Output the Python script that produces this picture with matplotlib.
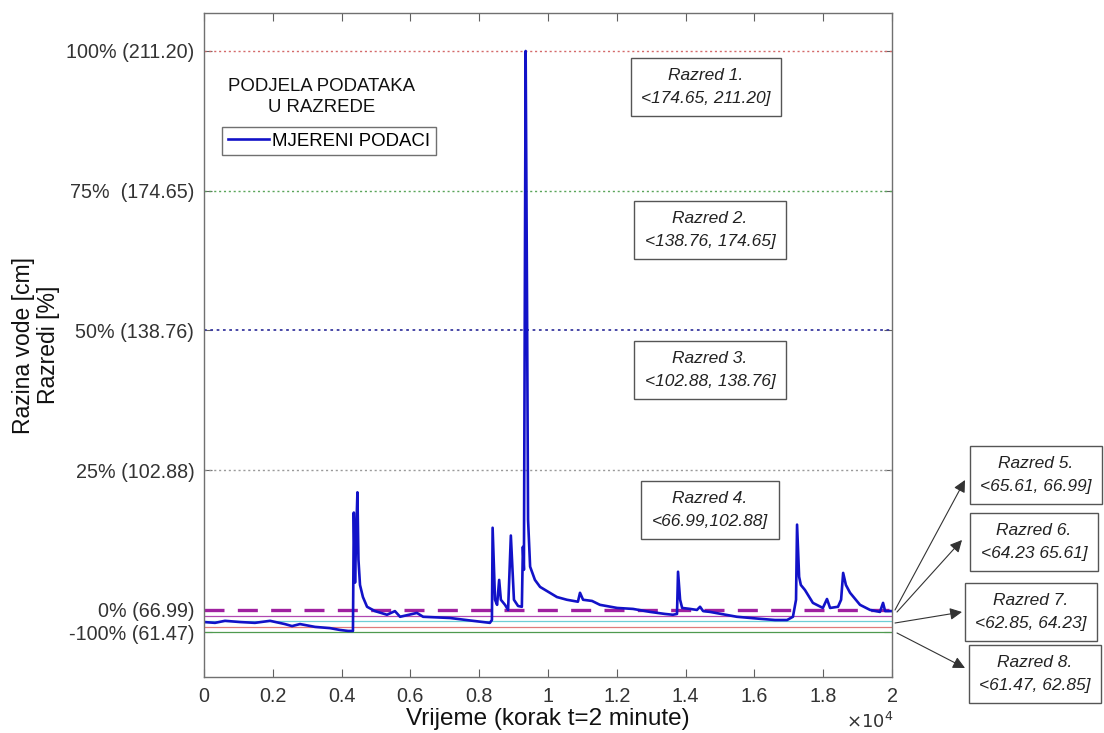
import numpy as np
import matplotlib
matplotlib.use("Agg")
import matplotlib.pyplot as plt

plt.rcParams['font.family'] = ['Liberation Sans', 'DejaVu Sans']

# mjereni podaci: uzorak (korak 2 min) i razina vode [cm]
uzorak = [0, 320, 610, 1050, 1480, 1920, 2350, 2560, 2790, 3230, 3660, 3950, 4190, 4330,
          4355, 4390, 4420, 4460, 4490, 4535, 4620, 4740, 4970, 5320, 5550, 5700, 6190,
          6370, 7150, 7820, 8310, 8370, 8390, 8460, 8520, 8580, 8630, 8750, 8840, 8920,
          9010, 9130, 9240, 9270, 9300, 9350, 9390, 9420, 9480, 9620, 9770, 10260, 10550,
          10870, 10930, 11020, 11280, 11510, 12010, 12470, 12970, 13400, 13630, 13750,
          13780, 13840, 13900, 14130, 14330, 14420, 14510, 14710, 15490, 16160, 16600,
          16950, 17120, 17210, 17240, 17300, 17350, 17470, 17700, 17990, 18110, 18200,
          18430, 18520, 18580, 18660, 18780, 19070, 19360, 19650, 19740, 19800, 19970]
razina = [64.0, 63.8, 64.3, 64.0, 63.8, 64.3, 63.5, 63.0, 63.5, 62.8, 62.5, 62.05, 61.8, 61.8,
          92.0, 74.0, 85.0, 97.2, 79.9, 73.4, 70.3, 67.8, 66.7, 65.8, 66.7, 65.3, 66.25,
          65.3, 65.0, 64.3, 63.8, 64.5, 88.1, 69.6, 68.3, 74.7, 69.6, 68.3, 67.0, 86.1,
          69.6, 68.0, 67.8, 83.2, 77.3, 211.2, 147.0, 90.2, 78.1, 74.7, 72.9, 70.3, 69.6,
          69.1, 71.4, 69.6, 69.3, 68.3, 67.5, 67.25, 66.5, 66.0, 65.8, 66.0,
          76.8, 69.6, 67.5, 67.25, 66.99, 67.8, 66.7, 66.5, 65.3, 64.8, 64.5,
          64.5, 65.3, 69.6, 88.9, 75.5, 73.4, 72.1, 68.8, 67.5, 69.8, 67.5,
          67.8, 69.6, 76.5, 73.4, 71.4, 68.3, 67.0, 66.5, 68.8, 66.7, 66.7]

# granice razreda [cm] i pripadni polozaj na osi [%]
granice_cm = [0, 61.47, 62.85, 64.23, 65.61, 66.99, 102.88, 138.76, 174.65, 211.20, 400]
granice_os = [-48.54, -4, -3, -2, -1, 0, 25, 50, 75, 100, 229.1]

tick_cm = [61.47, 66.99, 102.88, 138.76, 174.65, 211.20]
tick_lab = ['-100% (61.47)', '0% (66.99)', '25% (102.88)', '50% (138.76)',
            '75%  (174.65)', '100% (211.20)']

gornje = [211.20, 174.65, 138.76, 102.88]
gornje_boje = ['#d46a6a', '#5aa55a', '#3a3aa0', '#9a9a9a']
donje = [65.61, 64.23, 62.85, 61.47]
donje_boje = ['#b048b0', '#6fcfd6', '#e07a7a', '#4f9a4f']

razredi = ['Razred 1.\n<174.65, 211.20]', 'Razred 2.\n<138.76, 174.65]',
           'Razred 3.\n<102.88, 138.76]', 'Razred 4.\n<66.99,102.88]',
           'Razred 5.\n<65.61, 66.99]', 'Razred 6.\n<64.23 65.61]',
           'Razred 7.\n<62.85, 64.23]', 'Razred 8.\n<61.47, 62.85]']


def fwd(y):
    return np.interp(y, granice_cm, granice_os)


def inv(y):
    return np.interp(y, granice_os, granice_cm)


W, H = 1104, 733
fig = plt.figure(figsize=(W / 100, H / 100), dpi=100)
ax = fig.add_axes([204 / W, 56 / H, 688 / W, 664 / H])
ax.set_yscale('function', functions=(fwd, inv))

for v, c in zip(gornje, gornje_boje):
    ax.axhline(v, color=c, lw=1.0 if c != '#3a3aa0' else 1.3, ls=(0, (1.5, 2)))
for v, c in zip(donje, donje_boje):
    ax.axhline(v, color=c, lw=0.9)
ax.plot([0, 19900], [66.99, 66.99], color='#a020a0', lw=2.4, ls=(0, (6, 4)))

ln, = ax.plot(uzorak, razina, color='#1212c8', lw=1.9)

ax.set_xlim(0, 20000)
ax.set_ylim(50.43, 221.14)
ax.set_xticks(np.arange(0, 20001, 2000))
ax.set_xticklabels(['0', '0.2', '0.4', '0.6', '0.8', '1', '1.2', '1.4', '1.6', '1.8', '2'])
ax.set_yticks(tick_cm)
ax.set_yticklabels(tick_lab)
ax.yaxis.set_minor_locator(matplotlib.ticker.NullLocator())
ax.tick_params(direction='in', length=6, width=0.8, color='#606060',
               labelsize=14.2, labelcolor='#333333', top=True, right=True, pad=7)
for s in ax.spines.values():
    s.set_color('#707070')
    s.set_linewidth(1.0)

ax.set_xlabel('Vrijeme (korak t=2 minute)', fontsize=17.5, color='#111111', labelpad=2)
ax.set_ylabel('Razina vode [cm]\nRazredi [%]', fontsize=16.5, color='#111111',
              labelpad=4, linespacing=1.15)
fig.text(870 / W, 1 - 722 / H, r'$\times10^{4}$', fontsize=13, color='#333333',
         ha='center', va='center')

fig.text(322 / W, 1 - 97 / H, 'PODJELA PODATAKA\nU RAZREDE', fontsize=13.4,
         ha='center', va='center', color='#111111', linespacing=1.3)
leg = ax.legend([ln], ['MJERENI PODACI'], loc='upper left',
                bbox_to_anchor=(222 / W, 1 - 127 / H), bbox_transform=fig.transFigure,
                borderaxespad=0, fancybox=False, fontsize=13.4, handlelength=2.2,
                handletextpad=0.2, borderpad=0.3, framealpha=1)
leg.get_frame().set_edgecolor('#707070')
leg.get_frame().set_linewidth(1.0)

box_xy = [(706, 87), (710, 230), (710, 370), (710, 510),
          (1036, 475), (1034, 542), (1031, 612), (1035, 674)]
for t, (x, y) in zip(razredi, box_xy):
    fig.text(x / W, 1 - y / H, t, fontsize=12.5, style='italic', ha='center', va='center',
             color='#222222', linespacing=1.6,
             bbox=dict(boxstyle='square,pad=0.6', fc='white', ec='#555555', lw=1.0))

strelice = [((895, 610), (965, 480)), ((897, 612), (962, 540)),
            ((895, 623), (962, 612)), ((897, 633), (965, 668))]
for (x0, y0), (x1, y1) in strelice:
    ax.annotate('', xy=(x1, H - y1), xycoords='figure pixels',
                xytext=(x0, H - y0), textcoords='figure pixels',
                arrowprops=dict(arrowstyle='-|>', color='#333333', lw=0.8,
                                mutation_scale=18, shrinkA=0, shrinkB=0))

fig.savefig('out.png', dpi=100)
